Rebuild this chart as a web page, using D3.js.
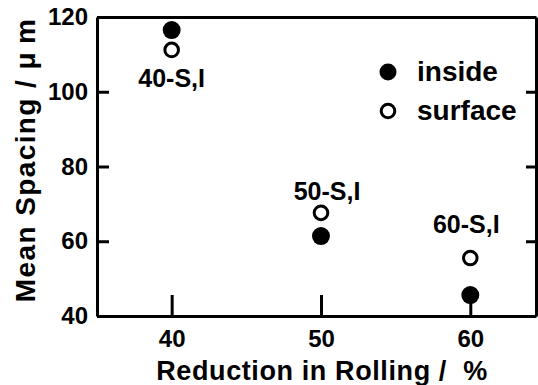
<!DOCTYPE html>
<head>
    <meta charset="utf-8">
    <title>Mean spacing vs reduction</title>
    <script src="https://d3js.org/d3.v7.min.js"></script>
    <style>
        body { margin: 0; background: #fff; }
        svg { display: block; font-family: "Liberation Sans", Arial, sans-serif; font-weight: bold; }
        .axis path, .axis line { stroke: #000; stroke-width: 3; }
        .axis text { font-size: 24px; fill: #000; }
    </style>
</head>

<body>
    <div id="container"></div>
    <script>
        //------------------------DATA------------------------//
        var reduction = [40, 50, 60];
        var inside = [116.5, 61.4, 45.6];
        var surface = [111.2, 67.6, 55.5];
        var pointLabels = ["40-S,I", "50-S,I", "60-S,I"];
        var xTicks = [40, 50, 60];
        var yTicks = [40, 60, 80, 100, 120];
        var legendNames = ["inside", "surface"];

        //------------------------SETUP-----------------------//
        var W = 538, H = 385;
        var plot = { left: 97, right: 536, top: 17, bottom: 316 };

        var xScale = d3.scaleLinear().domain([35, 64.4]).range([plot.left, plot.right]);
        var yScale = d3.scaleLinear().domain([40, 120]).range([plot.bottom, plot.top]);

        var svg = d3.select("#container").append("svg")
            .attr("width", W).attr("height", H);

        //------------------------AXES------------------------//
        svg.append("g")
            .attr("class", "axis")
            .attr("transform", "translate(" + plot.left + ",0)")
            .call(d3.axisLeft(yScale).tickValues(yTicks).tickSize(-12).tickPadding(9).tickSizeOuter(0));

        svg.append("g")
            .attr("class", "axis")
            .attr("transform", "translate(0," + plot.bottom + ")")
            .call(d3.axisBottom(xScale).tickValues(xTicks).tickSize(-21).tickPadding(14).tickSizeOuter(0));

        svg.append("g")
            .attr("class", "axis")
            .attr("transform", "translate(" + plot.right + ",0)")
            .call(d3.axisRight(yScale).tickValues(yTicks.slice(1, 4)).tickSize(-10).tickFormat("").tickSizeOuter(0));

        svg.append("g")
            .attr("class", "axis")
            .attr("transform", "translate(0," + plot.top + ")")
            .call(d3.axisTop(xScale).tickValues([]).tickSizeOuter(0));

        // axis titles
        svg.append("text")
            .attr("x", 322)
            .attr("y", 380)
            .attr("text-anchor", "middle")
            .style("font-size", "27px")
            .style("letter-spacing", "0.6px")
            .text("Reduction in Rolling /\u00a0 %");

        svg.append("text")
            .attr("transform", "translate(35,160) rotate(-90)")
            .attr("text-anchor", "middle")
            .style("font-size", "28px")
            .style("letter-spacing", "1.4px")
            .text("Mean Spacing / \u03bc\u2009m");

        //------------------------POINTS------------------------//
        var pts = reduction.map(function (r, i) {
            return { r: r, inside: inside[i], surface: surface[i], label: pointLabels[i] };
        });

        svg.selectAll(".dot-inside")
            .data(pts)
            .join("circle")
            .attr("class", "dot-inside")
            .attr("cx", d => xScale(d.r))
            .attr("cy", d => yScale(d.inside))
            .attr("r", 9)
            .attr("fill", "#000");

        svg.selectAll(".dot-surface")
            .data(pts)
            .join("circle")
            .attr("class", "dot-surface")
            .attr("cx", d => xScale(d.r))
            .attr("cy", d => yScale(d.surface))
            .attr("r", 6.8)
            .attr("fill", "#fff")
            .attr("stroke", "#000")
            .attr("stroke-width", 3);

        // label offsets from the open circle (dx, dy in px)
        var labelOffset = [[0, 37], [6, -13], [-4, -25]];
        svg.selectAll(".pt-label")
            .data(pts)
            .join("text")
            .attr("class", "pt-label")
            .attr("x", (d, i) => xScale(d.r) + labelOffset[i][0])
            .attr("y", (d, i) => yScale(d.surface) + labelOffset[i][1])
            .attr("text-anchor", "middle")
            .style("font-size", "25px")
            .text(d => d.label);

        //------------------------LEGEND------------------------//
        var legend = svg.selectAll(".legend")
            .data(legendNames)
            .join("g")
            .attr("class", "legend")
            .attr("transform", (d, i) => "translate(388," + (72 + i * 39) + ")");

        legend.append("circle")
            .attr("r", (d, i) => i === 0 ? 8.5 : 6.8)
            .attr("fill", (d, i) => i === 0 ? "#000" : "#fff")
            .attr("stroke", "#000")
            .attr("stroke-width", (d, i) => i === 0 ? 0 : 3);

        legend.append("text")
            .attr("x", 29)
            .attr("y", 9)
            .style("font-size", "28px")
            .text(d => d);
    </script>
</body>
